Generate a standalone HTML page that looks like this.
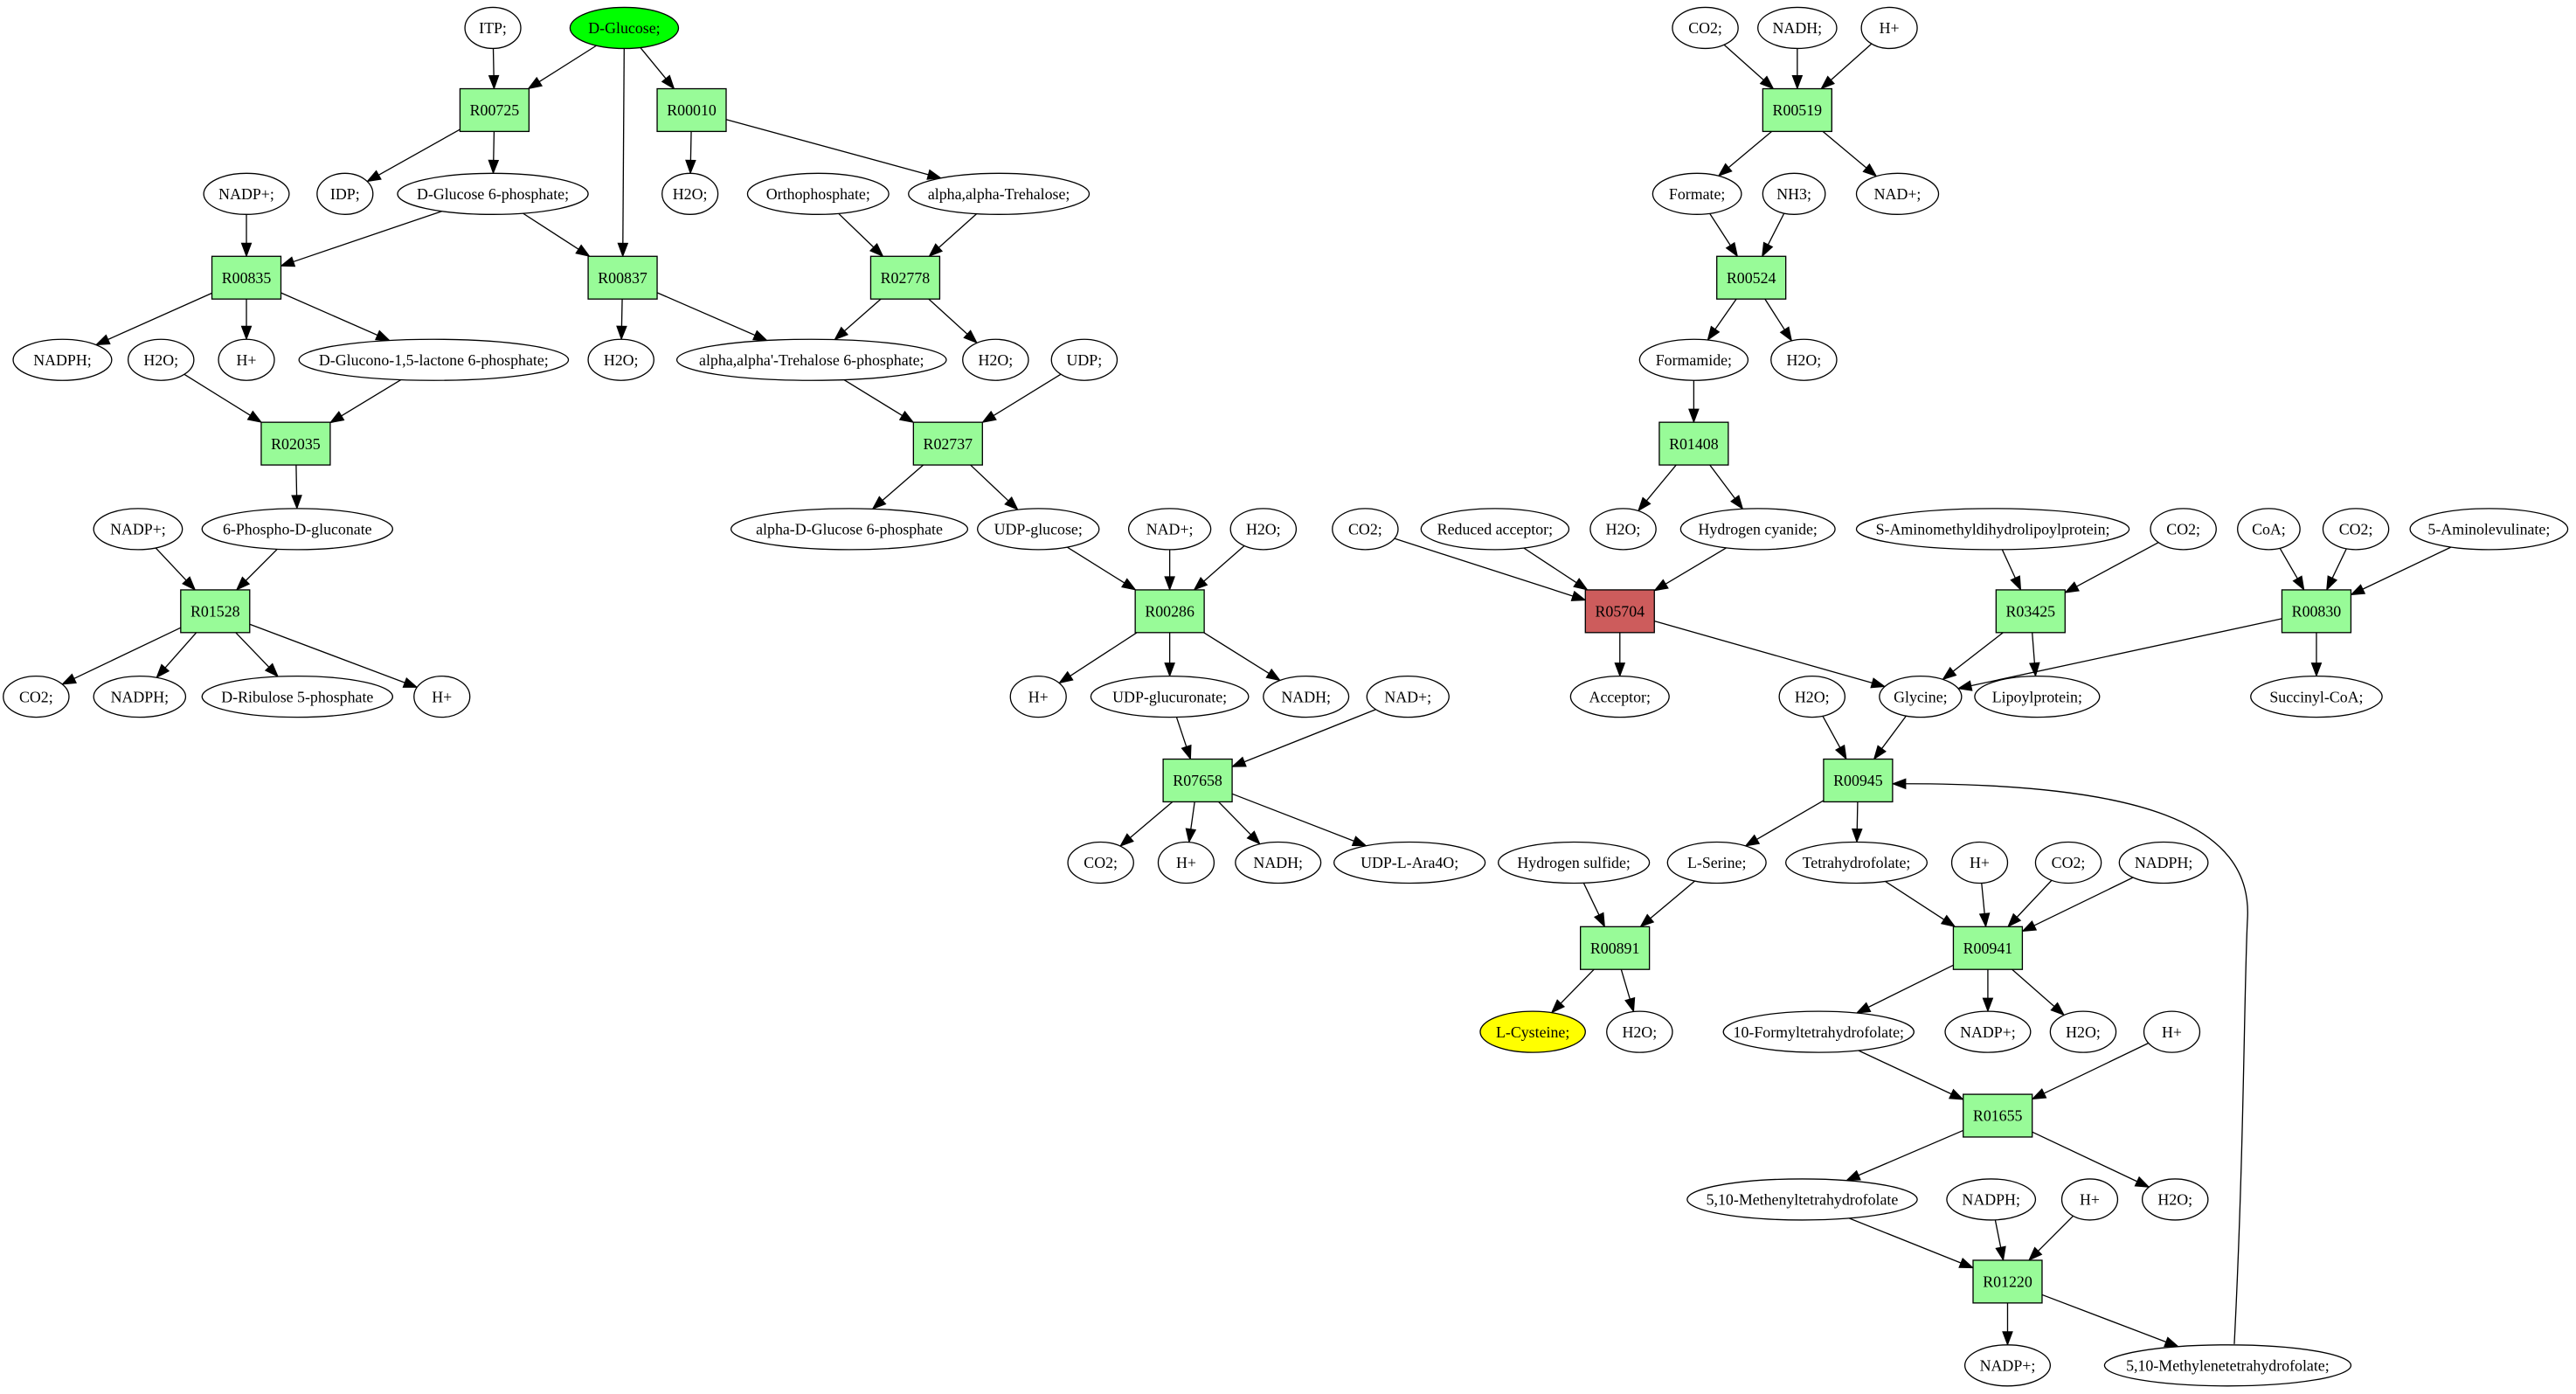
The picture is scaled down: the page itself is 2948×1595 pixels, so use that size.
<!DOCTYPE html>
<html><head><meta charset="utf-8"><style>
html,body{margin:0;padding:0;background:#fff;}
svg{display:block;}
text{font-family:"Liberation Serif",serif;font-size:9.5px;}
</style></head><body>
<svg id="s" xmlns="http://www.w3.org/2000/svg" width="2948" height="1595" viewBox="0 0 1568 848.4" preserveAspectRatio="none">
<rect width="1568" height="849" fill="#fff"/>
<g id="edges"></g><g id="nodes"></g>
</svg>
<script>
var N={};
function E(id,x,y,rx,label,fill){N[id]={t:'e',x:x,y:y,rx:rx,ry:12.5,l:label,f:fill||'#fff'};}
function B(id,x,y,label,fill){N[id]={t:'b',x:x,y:y,w:21,h:13,l:label,f:fill||'#98fb98'};}
// left
E('ITP',300,17,17,'ITP;');E('DG',380,17,33,'D-Glucose;','#00ff00');
B('R00725',301,67,'R00725');B('R00010',421,67,'R00010');
E('NADPa',150,118,26,'NADP+;');E('IDP',210,118,17,'IDP;');E('G6P',300,118,58,'D-Glucose 6-phosphate;');
E('H2Oa',420,118,17,'H2O;');E('Orth',498,118,43,'Orthophosphate;');E('Treh',608,118,55,'alpha,alpha-Trehalose;');
B('R00835',150,169,'R00835');B('R00837',379,169,'R00837');B('R02778',551,169,'R02778');
E('NADPHa',38,219,30,'NADPH;');E('H2Ob',98,219,20,'H2O;');E('Ha',150,219,17,'H+');
E('Glc',264,219,82,'D-Glucono-1,5-lactone 6-phosphate;');E('H2Oc',378,219,20,'H2O;');
E('T6P',494,219,82,"alpha,alpha'-Trehalose 6-phosphate;");E('H2Od',606,219,20,'H2O;');E('UDP',660,219,20,'UDP;');
B('R02035',180,270,'R02035');B('R02737',577,270,'R02737');
E('NADPb',84,322,27,'NADP+;');E('PG',181,322,58,'6-Phospho-D-gluconate');E('aDG',517,322,72,'alpha-D-Glucose 6-phosphate');
E('UDPg',632,322,37,'UDP-glucose;');E('NADa',712,322,25,'NAD+;');E('H2Oe',769,322,20,'H2O;');
B('R01528',131,372,'R01528');B('R00286',712,372,'R00286');
E('CO2a',22,424,20,'CO2;');E('NADPHb',85,424,28,'NADPH;');E('Rib',181,424,58,'D-Ribulose 5-phosphate');E('Hb',269,424,17,'H+');
E('Hc',632,424,17,'H+');E('UGA',712,424,48,'UDP-glucuronate;');E('NADHa',795,424,26,'NADH;');E('NADb',857,424,25,'NAD+;');
B('R07658',729,475,'R07658');
E('CO2b',670,525,20,'CO2;');E('Hd',722,525,17,'H+');E('NADHb',778,525,26,'NADH;');E('Ara',858,525,46,'UDP-L-Ara4O;');
// right
E('CO2c',1038,17,20,'CO2;');E('NADHc',1094,17,24,'NADH;');E('He',1150,17,17,'H+');
B('R00519',1094,67,'R00519');
E('Form',1033,118,27,'Formate;');E('NH3',1092,118,19,'NH3;');E('NADc',1155,118,25,'NAD+;');
B('R00524',1066,169,'R00524');
E('Fam',1031,219,33,'Formamide;');E('H2Of',1098,219,20,'H2O;');
B('R01408',1031,270,'R01408');
E('CO2d',831,322,20,'CO2;');E('RedA',910,322,45,'Reduced acceptor;');E('H2Og',988,322,20,'H2O;');E('HCN',1070,322,47,'Hydrogen cyanide;');
E('SAm',1213,322,83,'S-Aminomethyldihydrolipoylprotein;');E('CO2e',1329,322,20,'CO2;');E('CoA',1381,322,19,'CoA;');E('CO2f',1434,322,20,'CO2;');E('ALA',1515,322,48,'5-Aminolevulinate;');
B('R05704',986,372,'R05704','#cd5c5c');B('R03425',1236,372,'R03425');B('R00830',1410,372,'R00830');
E('Acc',986,424,30,'Acceptor;');E('H2Oh',1103,424,20,'H2O;');E('Gly',1169,424,25,'Glycine;');E('Lip',1240,424,38,'Lipoylprotein;');E('Suc',1410,424,40,'Succinyl-CoA;');
B('R00945',1131,475,'R00945');
E('HS',958,525,46,'Hydrogen sulfide;');E('Ser',1045,525,30,'L-Serine;');E('THF',1130,525,43,'Tetrahydrofolate;');E('Hf',1205,525,17,'H+');E('CO2g',1259,525,20,'CO2;');E('NADPHc',1317,525,27,'NADPH;');
B('R00891',983,577,'R00891');B('R00941',1210,577,'R00941');
E('Cys',933,628,32,'L-Cysteine;','#ffff00');E('H2Oi',998,628,20,'H2O;');E('FTHF',1107,628,58,'10-Formyltetrahydrofolate;');E('NADPc',1210,628,26,'NADP+;');E('H2Oj',1268,628,20,'H2O;');E('Hg',1322,628,17,'H+');
B('R01655',1216,679,'R01655');
E('Meth',1097,730,70,'5,10-Methenyltetrahydrofolate');E('NADPHd',1212,730,27,'NADPH;');E('Hh',1272,730,17,'H+');E('H2Ok',1324,730,20,'H2O;');
B('R01220',1222,780,'R01220');
E('NADPd',1222,831,26,'NADP+;');E('Mlene',1356,831,75,'5,10-Methylenetetrahydrofolate;');

var ED=[['ITP','R00725'],['DG','R00725'],['DG','R00837'],['DG','R00010'],['R00725','IDP'],['R00725','G6P'],['R00010','H2Oa'],['R00010','Treh'],
['NADPa','R00835'],['G6P','R00835'],['G6P','R00837'],['Orth','R02778'],['Treh','R02778'],['R00835','NADPHa'],['R00835','Ha'],['R00835','Glc'],
['R00837','H2Oc'],['R00837','T6P'],['R02778','T6P'],['R02778','H2Od'],['H2Ob','R02035'],['Glc','R02035'],['T6P','R02737'],['UDP','R02737'],
['R02035','PG'],['NADPb','R01528'],['PG','R01528'],['R02737','aDG'],['R02737','UDPg'],['R01528','CO2a'],['R01528','NADPHb'],['R01528','Rib'],['R01528','Hb'],
['UDPg','R00286'],['NADa','R00286'],['H2Oe','R00286'],['R00286','Hc'],['R00286','UGA'],['R00286','NADHa'],['UGA','R07658'],['NADb','R07658'],
['R07658','CO2b'],['R07658','Hd'],['R07658','NADHb'],['R07658','Ara'],
['CO2c','R00519'],['NADHc','R00519'],['He','R00519'],['R00519','Form'],['R00519','NADc'],['Form','R00524'],['NH3','R00524'],['R00524','Fam'],['R00524','H2Of'],
['Fam','R01408'],['R01408','H2Og'],['R01408','HCN'],['CO2d','R05704'],['RedA','R05704'],['HCN','R05704'],['R05704','Acc'],['R05704','Gly'],
['SAm','R03425'],['CO2e','R03425'],['R03425','Gly'],['R03425','Lip'],['CoA','R00830'],['CO2f','R00830'],['ALA','R00830'],['R00830','Gly'],['R00830','Suc'],
['H2Oh','R00945'],['Gly','R00945'],['R00945','Ser'],['R00945','THF'],['HS','R00891'],['Ser','R00891'],['R00891','Cys'],['R00891','H2Oi'],
['THF','R00941'],['Hf','R00941'],['CO2g','R00941'],['NADPHc','R00941'],['R00941','FTHF'],['R00941','NADPc'],['R00941','H2Oj'],
['FTHF','R01655'],['Hg','R01655'],['R01655','Meth'],['R01655','H2Ok'],['Meth','R01220'],['NADPHd','R01220'],['Hh','R01220'],['R01220','NADPd'],['R01220','Mlene']];

function bnd(n,dx,dy){
  if(n.t==='e'){var t=1/Math.sqrt(dx*dx/(n.rx*n.rx)+dy*dy/(n.ry*n.ry));return [n.x+dx*t,n.y+dy*t];}
  var t=Math.min(Math.abs(dx)>0?n.w/Math.abs(dx):1e9,Math.abs(dy)>0?n.h/Math.abs(dy):1e9);return [n.x+dx*t,n.y+dy*t];
}
var NS='http://www.w3.org/2000/svg',eg=document.getElementById('edges'),ng=document.getElementById('nodes');
function el(tag,a,p){var e=document.createElementNS(NS,tag);for(var k in a)e.setAttribute(k,a[k]);(p||eg).appendChild(e);return e;}
function arrow(x,y,ux,uy){var L=8,W=3;var bx=x-ux*L,by=y-uy*L;
 el('polygon',{points:x+','+y+' '+(bx-uy*W)+','+(by+ux*W)+' '+(bx+uy*W)+','+(by-ux*W),fill:'#000',stroke:'#000','stroke-width':0.5});}
ED.forEach(function(e){var a=N[e[0]],b=N[e[1]];var dx=b.x-a.x,dy=b.y-a.y,l=Math.hypot(dx,dy),ux=dx/l,uy=dy/l;
 var s=bnd(a,dx,dy),t=bnd(b,-dx,-dy);
 el('line',{x1:s[0],y1:s[1],x2:t[0]-ux*7,y2:t[1]-uy*7,stroke:'#000','stroke-width':0.7});arrow(t[0],t[1],ux,uy);});
el('path',{d:'M1360,818 C1366,700 1366,600 1368,560 C1372,500 1300,477 1160,477',fill:'none',stroke:'#000','stroke-width':0.7});
arrow(1152,477,-1,0);
for(var k in N){var n=N[k];
 if(n.t==='e')el('ellipse',{cx:n.x,cy:n.y,rx:n.rx,ry:n.ry,fill:n.f,stroke:'#000','stroke-width':0.7},ng);
 else el('rect',{x:n.x-n.w,y:n.y-n.h,width:2*n.w,height:2*n.h,fill:n.f,stroke:'#000','stroke-width':0.7},ng);
 var t=el('text',{x:n.x,y:n.y+3.3,'text-anchor':'middle'},ng);t.textContent=n.l;}
</script>
</body></html>
